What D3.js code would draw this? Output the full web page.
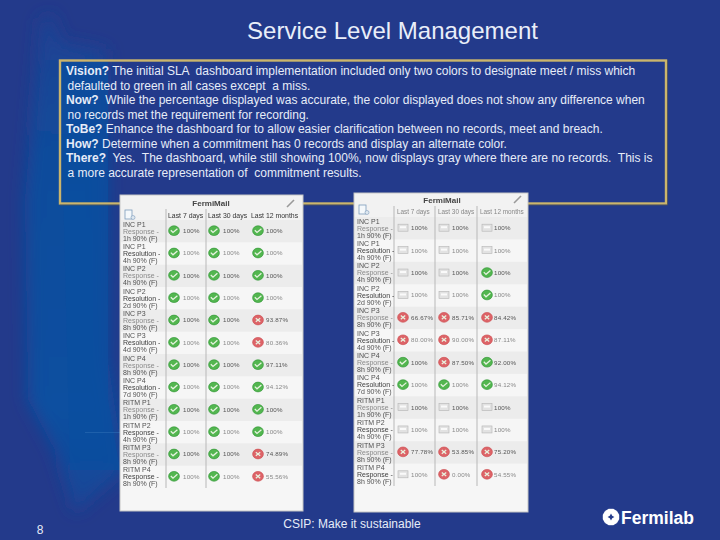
<!DOCTYPE html>
<html>
<head>
<meta charset="utf-8">
<script src="https://cdn.jsdelivr.net/npm/d3@7/dist/d3.min.js"></script>
<style>
html, body { margin: 0; padding: 0; background: #233a8b; overflow: hidden; }
svg { display: block; font-family: "Liberation Sans", Arial, sans-serif; }
</style>
</head>
<body>
<script>
var width = 720;
var height = 540;

var slideTitle = "Service Level Management";
var footerText = "CSIP: Make it sustainable";
var pageNumber = "8";
var panelTitle = "FermiMail";

// [bold lead, rest of the line]
var bodyLines = [
  ["Vision?", " The initial SLA  dashboard implementation included only two colors to designate meet / miss which"],
  ["", "defaulted to green in all cases except  a miss."],
  ["Now?", "  While the percentage displayed was accurate, the color displayed does not show any difference when"],
  ["", "no records met the requirement for recording."],
  ["ToBe?", " Enhance the dashboard for to allow easier clarification between no records, meet and breach."],
  ["How?", " Determine when a commitment has 0 records and display an alternate color."],
  ["There?", "  Yes.  The dashboard, while still showing 100%, now displays gray where there are no records.  This is"],
  ["", "a more accurate representation of  commitment results."]
];

var periods = ["Last 7 days", "Last 30 days", "Last 12 months"];

var commitments = [
  ["INC P1", "Response -", "1h 90% (F)"],
  ["INC P1", "Resolution -", "4h 90% (F)"],
  ["INC P2", "Response -", "4h 90% (F)"],
  ["INC P2", "Resolution -", "2d 90% (F)"],
  ["INC P3", "Response -", "8h 90% (F)"],
  ["INC P3", "Resolution -", "4d 90% (F)"],
  ["INC P4", "Response -", "8h 90% (F)"],
  ["INC P4", "Resolution -", "7d 90% (F)"],
  ["RITM P1", "Response -", "1h 90% (F)"],
  ["RITM P2", "Response -", "4h 90% (F)"],
  ["RITM P3", "Response -", "8h 90% (F)"],
  ["RITM P4", "Response -", "8h 90% (F)"]
];

// before: every cell green unless missed
var beforeValues = [
  ["100%", "100%", "100%"], ["100%", "100%", "100%"],
  ["100%", "100%", "100%"], ["100%", "100%", "100%"],
  ["100%", "100%", "93.87%"], ["100%", "100%", "80.36%"],
  ["100%", "100%", "97.11%"], ["100%", "100%", "94.12%"],
  ["100%", "100%", "100%"], ["100%", "100%", "100%"],
  ["100%", "100%", "74.89%"], ["100%", "100%", "55.56%"]
];
var beforeStatus = ["ggg", "ggg", "ggg", "ggg", "ggr", "ggr", "ggg", "ggg", "ggg", "ggg", "ggr", "ggr"];

// after: n = no records
var afterValues = [
  ["100%", "100%", "100%"], ["100%", "100%", "100%"],
  ["100%", "100%", "100%"], ["100%", "100%", "100%"],
  ["66.67%", "85.71%", "84.42%"], ["80.00%", "90.00%", "87.11%"],
  ["100%", "87.50%", "92.00%"], ["100%", "100%", "94.12%"],
  ["100%", "100%", "100%"], ["100%", "100%", "100%"],
  ["77.78%", "53.85%", "75.20%"], ["100%", "0.00%", "54.55%"]
];
var afterStatus = ["nnn", "nnn", "nng", "nng", "rrr", "rrr", "grg", "ggg", "nnn", "nnn", "rrr", "nrr"];

var svg = d3.select("body").append("svg")
    .attr("width", width)
    .attr("height", height);

var defs = svg.append("defs");
defs.append("filter").attr("id", "bandBlur")
    .attr("x", "-30%").attr("width", "160%")
  .append("feGaussianBlur").attr("stdDeviation", 8);
defs.append("filter").attr("id", "softBlur")
  .append("feGaussianBlur").attr("stdDeviation", 0.4);

var bandGrad = defs.append("linearGradient").attr("id", "bandGrad")
    .attr("x1", 0).attr("y1", 0).attr("x2", 0).attr("y2", 1);
bandGrad.append("stop").attr("offset", "0%").attr("stop-color", "#1f4192");
bandGrad.append("stop").attr("offset", "30%").attr("stop-color", "#0e4c9c");
bandGrad.append("stop").attr("offset", "80%").attr("stop-color", "#074fa0");
bandGrad.append("stop").attr("offset", "100%").attr("stop-color", "#1c4596");

svg.append("rect")
    .attr("width", width)
    .attr("height", height)
    .attr("fill", "#233a8b");

// lighter band down the left of the slide
var band = svg.append("g").attr("filter", "url(#bandBlur)");
band.append("path")
    .attr("d", "M40,20 L52,14 L62,42 L106,50 L108,360 L125,470 L75,512 L55,450 L28,400 L25,200 Z")
    .attr("fill", "url(#bandGrad)");
svg.append("path")
    .attr("d", "M60,62 H108 V400 L120,470 H70 Z")
    .attr("fill", "#0a4f9f")
    .attr("opacity", 0.7);
svg.append("rect")
    .attr("x", 85).attr("y", 432).attr("width", 35).attr("height", 1)
    .attr("fill", "#2c6cb4").attr("opacity", 0.6);

svg.append("text")
    .attr("x", 392.5)
    .attr("y", 39)
    .attr("text-anchor", "middle")
    .attr("font-size", 24)
    .attr("fill", "#e9eef9")
    .text(slideTitle);

// gold frame round the text
svg.append("rect")
    .attr("x", 60).attr("y", 60.5)
    .attr("width", 606).attr("height", 143)
    .attr("fill", "none")
    .attr("stroke", "#cbb56c")
    .attr("stroke-width", 2.4);
svg.append("path")
    .attr("d", "M59.5,205 H667.5 V60")
    .attr("fill", "none")
    .attr("stroke", "#5a5a50")
    .attr("stroke-width", 0.7);

var bodyY = d3.scaleBand()
    .domain(d3.range(bodyLines.length))
    .range([61.5, 177.5]);

var bodyText = svg.append("g")
    .selectAll("text")
    .data(bodyLines)
    .enter()
    .append("text")
      .attr("x", d => d[0] ? 66 : 67.5)
      .attr("y", (d, i) => bodyY(i) + 13.5)
      .attr("font-size", 12)
      .attr("fill", "#e6ecf8");
bodyText.append("tspan")
    .attr("font-weight", "bold")
    .text(d => d[0]);
bodyText.append("tspan")
    .attr("xml:space", "preserve")
    .style("white-space", "pre")
    .text(d => d[1]);

function drawStatusIcon(g, status) {
  if (status === "n") {
    g.append("rect").attr("x", -5).attr("y", -3.5).attr("width", 10).attr("height", 7)
        .attr("fill", "#e2e2e2").attr("stroke", "#b4b4b4").attr("stroke-width", 0.6);
    g.append("rect").attr("x", -3).attr("y", -1.5).attr("width", 6).attr("height", 2)
        .attr("fill", "#fafafa");
    return;
  }
  var green = status === "g";
  g.append("ellipse").attr("rx", 5.4).attr("ry", 4.9)
      .attr("fill", green ? "#52b650" : "#dd6468")
      .attr("stroke", green ? "#2e9433" : "#cb4a4e")
      .attr("stroke-width", 0.6);
  g.append("path")
      .attr("d", green ? "M-3.2,-0.4 L-1,1.8 L3.4,-2" : "M-2.2,-1.8 L2.2,1.8 M-2.2,1.8 L2.2,-1.8")
      .attr("fill", "none")
      .attr("stroke", "#e8f3e0")
      .attr("stroke-width", 1.3);
}

function drawPanel(p) {
  var root = svg.append("g").attr("filter", "url(#softBlur)");

  root.append("rect")
      .attr("x", p.x0).attr("y", p.y0)
      .attr("width", p.x1 - p.x0).attr("height", p.y1 - p.y0)
      .attr("fill", "#f6f6f6")
      .attr("stroke", "#c4c4c4");

  root.append("rect")
      .attr("x", p.x0 + 1).attr("y", p.y0 + 1)
      .attr("width", p.x1 - p.x0 - 2).attr("height", p.rowTop - p.y0 - 1)
      .attr("fill", "#f2f2f2");

  var y = d3.scaleBand()
      .domain(d3.range(commitments.length))
      .range([p.rowTop, p.rowBottom]);

  var x = d3.scaleOrdinal()
      .domain(periods)
      .range(p.columns);

  root.append("g")
      .selectAll("rect")
      .data(d3.range(commitments.length).filter(i => i % 2 === 0))
      .enter()
      .append("rect")
        .attr("x", p.x0 + 1)
        .attr("y", d => y(d))
        .attr("width", p.x1 - p.x0 - 2)
        .attr("height", y.bandwidth())
        .attr("fill", "#ececec");

  root.append("g")
      .selectAll("line")
      .data(p.dividers)
      .enter()
      .append("line")
        .attr("x1", d => d)
        .attr("x2", d => d)
        .attr("y1", p.rowTop - 11)
        .attr("y2", p.rowBottom)
        .attr("stroke", "#b8b8b8");

  root.append("text")
      .attr("x", p.titleX)
      .attr("y", p.titleY)
      .attr("text-anchor", "middle")
      .attr("font-size", 8)
      .attr("font-weight", "bold")
      .attr("fill", "#444")
      .text(panelTitle);

  // pencil
  root.append("path")
      .attr("d", `M${p.pencil[0] - 4},${p.pencil[1] + 4} L${p.pencil[0] + 3},${p.pencil[1] - 3}`)
      .attr("stroke", "#9a9a9a")
      .attr("stroke-width", 1.6);

  // report icon
  root.append("rect")
      .attr("x", p.report[0] - 4).attr("y", p.report[1] - 5)
      .attr("width", 7).attr("height", 9)
      .attr("fill", "#f4f8fb")
      .attr("stroke", "#7d9cbc")
      .attr("stroke-width", 0.8);
  root.append("circle")
      .attr("cx", p.report[0] + 4).attr("cy", p.report[1] + 2.5)
      .attr("r", 2)
      .attr("fill", "#dfe8f0")
      .attr("stroke", "#7d9cbc")
      .attr("stroke-width", 0.6);

  root.append("g")
      .selectAll("text")
      .data(periods)
      .enter()
      .append("text")
        .attr("x", d => x(d) + p.headerPad)
        .attr("y", p.headerY)
        .attr("font-size", p.headerSize)
        .attr("fill", p.headerColor)
        .text(d => d);

  var rows = root.append("g")
      .selectAll("g")
      .data(commitments)
      .enter()
      .append("g")
        .attr("transform", (d, i) => `translate(0,${y(i)})`);

  rows.append("text")
      .attr("class", "commitment")
      .attr("font-size", 7)
      .attr("fill", "#333")
      .each(function (d, i) {
        d3.select(this).selectAll("tspan")
            .data(d)
            .enter()
            .append("tspan")
              .attr("x", p.x0 + 3)
              .attr("y", (t, k) => 6.5 + k * 7)
              .attr("fill-opacity", (t, k) => k === 1 ? (i % 2 ? 0.95 : 0.55) : 0.85)
              .text(t => t);
      });

  rows.each(function (d, i) {
    var row = d3.select(this);
    periods.forEach((period, c) => {
      var icon = row.append("g")
          .attr("transform", `translate(${x(period) + p.iconOffset[c]},${y.bandwidth() / 2 - 0.5})`);
      drawStatusIcon(icon, p.status[i][c]);
      row.append("text")
          .attr("x", x(period) + p.textOffset[c])
          .attr("y", y.bandwidth() / 2 + 2)
          .attr("font-size", 6.2)
          .attr("letter-spacing", 0.2)
          .attr("fill", i % 2 ? "#888" : "#555")
          .text(p.values[i][c]);
    });
  });
}

drawPanel({
  x0: 120, x1: 303, y0: 195, y1: 511,
  rowTop: 220, rowBottom: 488,
  columns: [166, 206, 249],
  dividers: [166, 206],
  iconOffset: [8, 8, 9],
  textOffset: [17, 17, 17],
  titleX: 211, titleY: 206,
  pencil: [291, 203],
  report: [129, 215],
  headerY: 217.5,
  headerSize: 6.9,
  headerPad: 2,
  headerColor: "#333",
  values: beforeValues,
  status: beforeStatus
});

drawPanel({
  x0: 354, x1: 528, y0: 193, y1: 512,
  rowTop: 217, rowBottom: 486,
  columns: [394, 435, 477],
  dividers: [394, 435, 477],
  iconOffset: [9, 9, 10],
  textOffset: [17, 17, 17],
  titleX: 442, titleY: 203,
  pencil: [518, 199],
  report: [363, 210],
  headerY: 214,
  headerSize: 6.4,
  headerPad: 3,
  headerColor: "#888",
  values: afterValues,
  status: afterStatus
});

svg.append("text")
    .attr("x", 40)
    .attr("y", 534)
    .attr("text-anchor", "middle")
    .attr("font-size", 12)
    .attr("fill", "#e6ecf8")
    .text(pageNumber);

svg.append("text")
    .attr("x", 352)
    .attr("y", 528)
    .attr("text-anchor", "middle")
    .attr("font-size", 12)
    .attr("fill", "#e6ecf8")
    .text(footerText);

// Fermilab logo
var logo = svg.append("g").attr("transform", "translate(611,517)");
logo.append("g")
    .selectAll("rect")
    .data(d3.range(6))
    .enter()
    .append("rect")
      .attr("x", -2.2).attr("y", -8.2)
      .attr("width", 4.4).attr("height", 16.4)
      .attr("fill", "#fff")
      .attr("transform", d => `rotate(${d * 30})`);
logo.append("circle").attr("r", 6.5).attr("fill", "#fff");
logo.append("path")
    .attr("d", "M0,-3.4 L1.2,-1.2 L3.4,0 L1.2,1.2 L0,3.4 L-1.2,1.2 L-3.4,0 L-1.2,-1.2 Z")
    .attr("fill", "#233a8b");

svg.append("text")
    .attr("x", 621)
    .attr("y", 524)
    .attr("font-size", 17.5)
    .attr("font-weight", "bold")
    .attr("fill", "#fff")
    .text("Fermilab");
</script>
</body>
</html>
